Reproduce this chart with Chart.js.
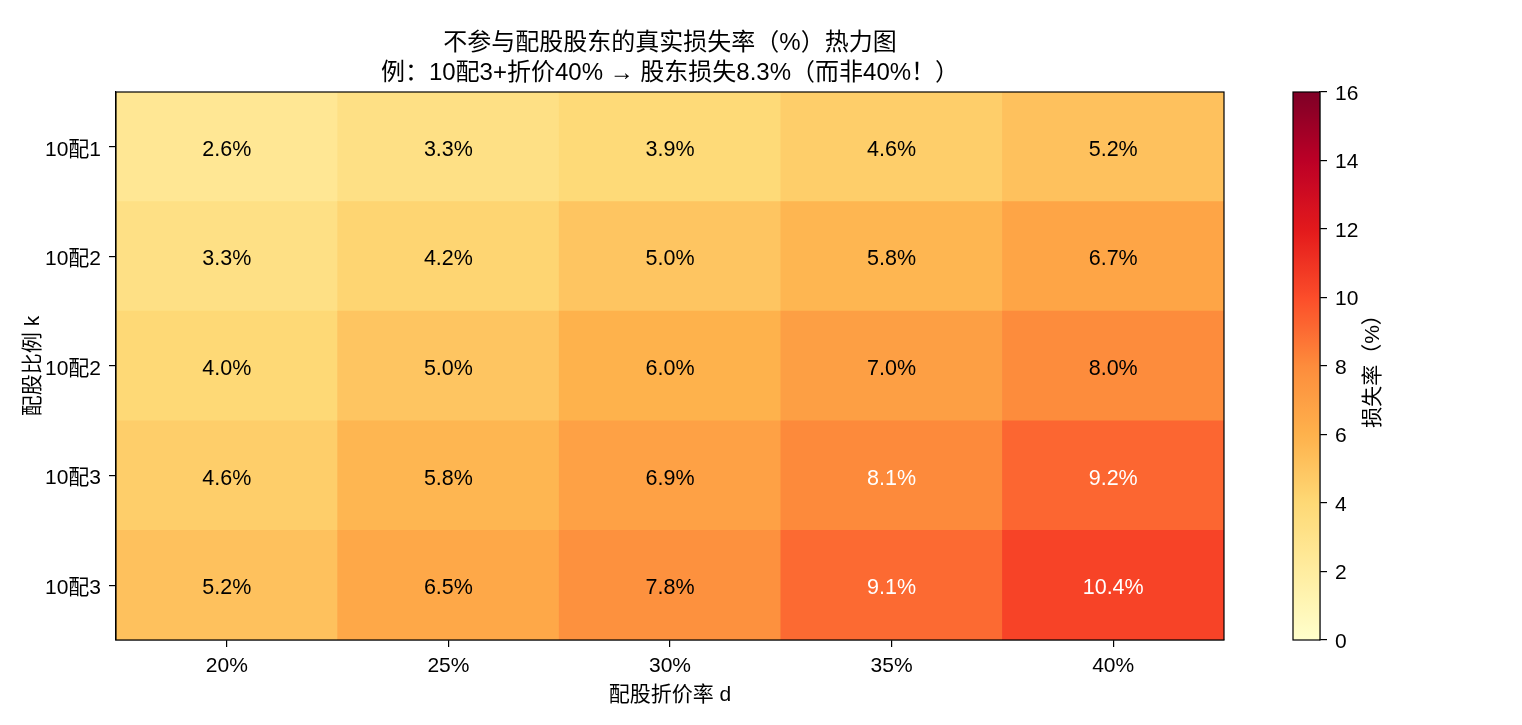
<!DOCTYPE html>
<html>
<head>
<meta charset="utf-8">
<script src="https://cdn.jsdelivr.net/npm/chart.js@4.4.1/dist/chart.umd.min.js"></script>
<style>
  html, body { margin: 0; padding: 0; background: #fff; }
  #wrap { position: relative; width: 1522px; height: 725px; }
  #main { position: absolute; left: 0; top: 0; }
  #cbar { position: absolute; left: 1240px; top: 0; }
</style>
</head>
<body>
<div id="wrap">
  <canvas id="main" width="1522" height="725"></canvas>
  <canvas id="cbar" width="282" height="725"></canvas>
</div>
<script>
// ---- data ----
const discountLabels = ['20%', '25%', '30%', '35%', '40%'];
const ratioLabels = ['10配1', '10配2', '10配2', '10配3', '10配3']; // top to bottom
const row1 = [2.6, 3.3, 3.9, 4.6, 5.2];
const row2 = [3.3, 4.2, 5.0, 5.8, 6.7];
const row3 = [4.0, 5.0, 6.0, 7.0, 8.0];
const row4 = [4.6, 5.8, 6.9, 8.1, 9.2];
const row5 = [5.2, 6.5, 7.8, 9.1, 10.4];
const lossRows = [row1, row2, row3, row4, row5]; // top to bottom
const colorbarTicks = [0, 2, 4, 6, 8, 10, 12, 14, 16];
const vmin = 0, vmax = 16;

const titleLines = ['不参与配股股东的真实损失率（%）热力图', '例：10配3+折价40% → 股东损失8.3%（而非40%！）'];
const xTitle = '配股折价率 d';
const yTitle = '配股比例 k';
const cbarTitle = '损失率（%）';

// ---- colormap (matplotlib YlOrRd) ----
const YLORRD = [[255,255,204],[255,237,160],[254,217,118],[254,178,76],[253,141,60],[252,78,42],[227,26,28],[189,0,38],[128,0,38]];
function cmap(v) {
  let t = Math.min(1, Math.max(0, (v - vmin) / (vmax - vmin)));
  t = Math.min(255, Math.floor(t * 256)) / 255;
  const p = t * 8;
  const i = Math.min(7, Math.floor(p));
  const f = p - i;
  const a = YLORRD[i], b = YLORRD[i + 1];
  const c = a.map((x, k) => Math.round(x + (b[k] - x) * f));
  return 'rgb(' + c.join(',') + ')';
}

const FAMILY = "'Liberation Sans', 'Noto Sans CJK SC', sans-serif";
const baseFont = { family: FAMILY, size: 21 };
const INK = '#000';

// bottom row first for stacking
const bottomUpRows = lossRows.slice().reverse();
const bottomUpLabels = ratioLabels.slice().reverse();
const yTickValues = bottomUpLabels.map((_, i) => i + 0.5);

const datasets = bottomUpRows.map((row, r) => ({
  label: bottomUpLabels[r],
  data: row.map(() => 1),
  values: row,
  backgroundColor: row.map(cmap),
  borderWidth: 0,
  barPercentage: 1,
  categoryPercentage: 1,
  stack: 'grid'
}));

const cellText = {
  id: 'cellText',
  afterDatasetsDraw(chart) {
    const ctx = chart.ctx;
    ctx.save();
    ctx.font = '21.5px ' + FAMILY;
    ctx.textAlign = 'center';
    ctx.textBaseline = 'middle';
    chart.data.datasets.forEach((ds, i) => {
      const meta = chart.getDatasetMeta(i);
      meta.data.forEach((bar, j) => {
        const v = ds.values[j];
        const p = bar.getCenterPoint();
        ctx.fillStyle = v > vmax / 2 ? '#fff' : '#000';
        ctx.fillText(v.toFixed(1) + '%', p.x, p.y + 3);
      });
    });
    ctx.restore();
  }
};

const frame = {
  id: 'frame',
  afterDraw(chart) {
    const a = chart.chartArea;
    const ctx = chart.ctx;
    ctx.save();
    ctx.strokeStyle = INK;
    ctx.lineWidth = 1.2;
    ctx.strokeRect(a.left, a.top, a.right - a.left, a.bottom - a.top);
    ctx.restore();
  }
};

new Chart(document.getElementById('main'), {
  type: 'bar',
  data: { labels: discountLabels, datasets },
  options: {
    responsive: false,
    animation: false,
    devicePixelRatio: 1,
    layout: { padding: { left: 0, right: 182, top: 0, bottom: 0 } },
    plugins: {
      legend: { display: false },
      tooltip: { enabled: false },
      title: {
        display: true,
        text: titleLines,
        color: INK,
        font: { family: FAMILY, size: 24, weight: 'normal', lineHeight: 1.25 },
        padding: { top: 28, bottom: 4 }
      }
    },
    scales: {
      x: {
        type: 'category',
        stacked: true,
        offset: true,
        grid: { display: true, drawOnChartArea: false, offset: false, tickLength: 7, color: INK, lineWidth: 1.2 },
        border: { display: true, color: INK, width: 1.2 },
        ticks: { font: baseFont, color: INK, padding: 7, maxRotation: 0 },
        title: { display: true, text: xTitle, color: INK, font: baseFont, padding: { top: 0, bottom: 17 } },
        afterFit(s) { s.height = 85; }
      },
      y: {
        type: 'linear',
        stacked: true,
        min: 0,
        max: 5,
        afterBuildTicks(s) { s.ticks = yTickValues.map(v => ({ value: v })); },
        grid: { display: true, drawOnChartArea: false, tickLength: 7, color: INK, lineWidth: 1.2 },
        border: { display: true, color: INK, width: 1.2 },
        ticks: { font: baseFont, color: INK, padding: 8, labelOffset: 3, callback: (v, i) => bottomUpLabels[i] },
        title: { display: true, text: yTitle, color: INK, font: baseFont, padding: { top: 21, bottom: 0 } },
        afterFit(s) { s.width = 116; }
      },
      ySpacer: {
        type: 'linear',
        position: 'right',
        display: true,
        grid: { display: false },
        border: { display: false },
        ticks: { display: false },
        afterFit(s) { s.width = 116; }
      }
    }
  },
  plugins: [cellText, frame]
});

// ---- colorbar ----
const cbarLabel = {
  id: 'cbarLabel',
  afterDraw(chart) {
    const a = chart.chartArea;
    const ctx = chart.ctx;
    ctx.save();
    ctx.translate(1373 - 1240, (a.top + a.bottom) / 2);
    ctx.rotate(-Math.PI / 2);
    ctx.font = '21px ' + FAMILY;
    ctx.fillStyle = INK;
    ctx.textAlign = 'center';
    ctx.textBaseline = 'middle';
    ctx.fillText(cbarTitle, 0, 0);
    ctx.restore();
  }
};

function cbarGradient(context) {
  const chart = context.chart;
  const a = chart.chartArea;
  if (!a) return cmap(8);
  const g = chart.ctx.createLinearGradient(0, a.bottom, 0, a.top);
  for (let i = 0; i <= 64; i++) {
    const t = i / 64;
    g.addColorStop(t, cmap(vmin + t * (vmax - vmin)));
  }
  return g;
}

new Chart(document.getElementById('cbar'), {
  type: 'bar',
  data: {
    labels: ['cbar'],
    datasets: [{ data: [[vmin, vmax]], backgroundColor: cbarGradient, borderWidth: 0, barPercentage: 1, categoryPercentage: 1 }]
  },
  options: {
    responsive: false,
    animation: false,
    devicePixelRatio: 1,
    layout: { padding: { left: 53, right: 0, top: 92, bottom: 85 } },
    plugins: { legend: { display: false }, tooltip: { enabled: false } },
    scales: {
      x: { display: false },
      y: {
        position: 'right',
        min: vmin,
        max: vmax,
        afterBuildTicks(s) { s.ticks = colorbarTicks.map(v => ({ value: v })); },
        grid: { display: true, drawOnChartArea: false, tickLength: 7, color: INK, lineWidth: 1.2 },
        border: { display: true, color: INK, width: 1.2 },
        ticks: { font: baseFont, color: INK, padding: 8, labelOffset: 2 },
        afterFit(s) { s.width = 282 - 53 - 27; }
      }
    }
  },
  plugins: [cbarLabel, frame]
});
</script>
</body>
</html>
